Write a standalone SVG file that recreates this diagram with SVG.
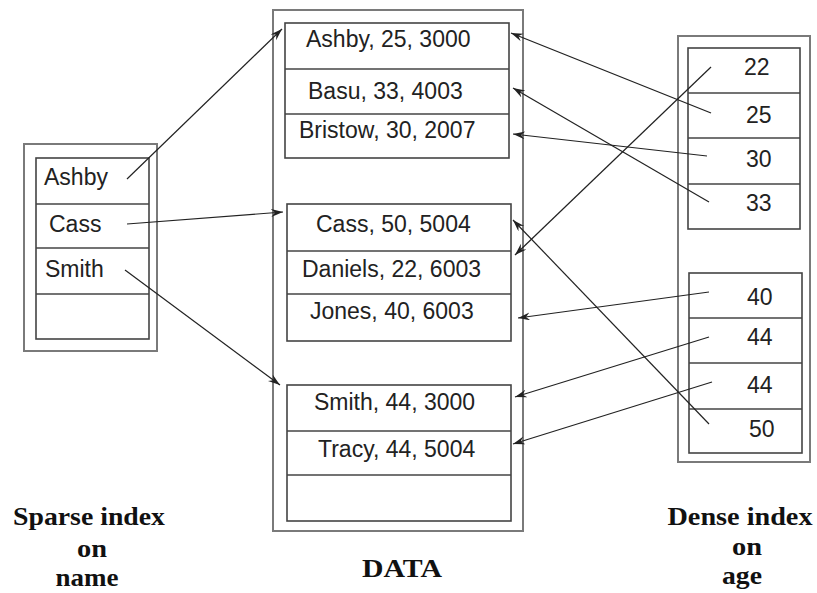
<svg xmlns="http://www.w3.org/2000/svg" width="817" height="593" viewBox="0 0 817 593">
<style>
.outer{fill:none;stroke:#7a7a7a;stroke-width:2}
.inner{fill:none;stroke:#444;stroke-width:1.6}
.div{stroke:#444;stroke-width:1.5}
.t{font-family:"Liberation Sans",Arial,sans-serif;font-size:23px;fill:#222}
.lbl{font-family:"Liberation Serif","Times New Roman",serif;font-size:25px;font-weight:bold;fill:#111;text-anchor:middle}
.c{fill:none;stroke:#222;stroke-width:1.2;marker-end:url(#ah)}
</style>
<defs>
<marker id="ah" markerUnits="userSpaceOnUse" markerWidth="14" markerHeight="10" refX="12" refY="4" orient="auto">
<path d="M0,0 L12,4 L0,8 L4,4 z" fill="#222"/>
</marker>
</defs>
<rect width="817" height="593" fill="#fff"/>

<g id="sparse-index">
<rect class="outer" x="24" y="144" width="133" height="207"/>
<rect class="inner" x="36" y="158" width="113" height="181"/>
<line class="div" x1="36" y1="204" x2="149" y2="204"/>
<line class="div" x1="36" y1="248" x2="149" y2="248"/>
<line class="div" x1="36" y1="294" x2="149" y2="294"/>
<text class="t" x="44" y="185">Ashby</text>
<text class="t" x="49" y="232">Cass</text>
<text class="t" x="45" y="277">Smith</text>
</g>

<g id="data">
<rect class="outer" x="273" y="10" width="250" height="521"/>
<g id="data-block-1">
<rect class="inner" x="285" y="23" width="224" height="135"/>
<line class="div" x1="285" y1="69" x2="509" y2="69"/>
<line class="div" x1="285" y1="114" x2="509" y2="114"/>
<text class="t" x="306" y="47">Ashby, 25, 3000</text>
<text class="t" x="308" y="99">Basu, 33, 4003</text>
<text class="t" x="299" y="138">Bristow, 30, 2007</text>
</g>
<g id="data-block-2">
<rect class="inner" x="287" y="204" width="224" height="137"/>
<line class="div" x1="287" y1="251" x2="511" y2="251"/>
<line class="div" x1="287" y1="294" x2="511" y2="294"/>
<text class="t" x="316" y="232">Cass, 50, 5004</text>
<text class="t" x="302" y="277">Daniels, 22, 6003</text>
<text class="t" x="310" y="319">Jones, 40, 6003</text>
</g>
<g id="data-block-3">
<rect class="inner" x="287" y="385" width="224" height="136"/>
<line class="div" x1="287" y1="431" x2="511" y2="431"/>
<line class="div" x1="287" y1="475" x2="511" y2="475"/>
<text class="t" x="314" y="410">Smith, 44, 3000</text>
<text class="t" x="318" y="457">Tracy, 44, 5004</text>
</g>
</g>

<g id="dense-index">
<rect class="outer" x="678" y="36" width="132" height="426"/>
<g id="dense-block-1">
<rect class="inner" x="688" y="48" width="112" height="181"/>
<line class="div" x1="688" y1="93" x2="800" y2="93"/>
<line class="div" x1="688" y1="138" x2="800" y2="138"/>
<line class="div" x1="688" y1="184" x2="800" y2="184"/>
<text class="t" x="744" y="75">22</text>
<text class="t" x="746" y="123">25</text>
<text class="t" x="746" y="167">30</text>
<text class="t" x="746" y="211">33</text>
</g>
<g id="dense-block-2">
<rect class="inner" x="689" y="273" width="113" height="180"/>
<line class="div" x1="689" y1="318" x2="802" y2="318"/>
<line class="div" x1="689" y1="363" x2="802" y2="363"/>
<line class="div" x1="689" y1="409" x2="802" y2="409"/>
<text class="t" x="747" y="305">40</text>
<text class="t" x="747" y="345">44</text>
<text class="t" x="747" y="393">44</text>
<text class="t" x="749" y="437">50</text>
</g>
</g>

<g id="connectors">
<line class="c" x1="127" y1="179" x2="282" y2="29"/>
<line class="c" x1="127" y1="224" x2="283" y2="212"/>
<line class="c" x1="125" y1="270" x2="280" y2="385"/>
<line class="c" x1="711" y1="67" x2="515" y2="255"/>
<line class="c" x1="711" y1="113" x2="511" y2="33"/>
<line class="c" x1="707" y1="156" x2="513" y2="134"/>
<line class="c" x1="709" y1="202" x2="513" y2="88"/>
<line class="c" x1="709" y1="424" x2="513" y2="220"/>
<line class="c" x1="709" y1="292" x2="518" y2="318"/>
<line class="c" x1="709" y1="337" x2="515" y2="397"/>
<line class="c" x1="712" y1="382" x2="513" y2="444"/>
</g>

<g id="labels">
<text class="lbl" x="89" y="525" textLength="152" lengthAdjust="spacingAndGlyphs">Sparse index</text>
<text class="lbl" x="92" y="557" textLength="30" lengthAdjust="spacingAndGlyphs">on</text>
<text class="lbl" x="87" y="586" textLength="63" lengthAdjust="spacingAndGlyphs">name</text>
<text class="lbl" x="402" y="577" textLength="80" lengthAdjust="spacingAndGlyphs">DATA</text>
<text class="lbl" x="740" y="525" textLength="145" lengthAdjust="spacingAndGlyphs">Dense index</text>
<text class="lbl" x="747" y="555" textLength="30" lengthAdjust="spacingAndGlyphs">on</text>
<text class="lbl" x="742" y="584" textLength="40" lengthAdjust="spacingAndGlyphs">age</text>
</g>
</svg>
